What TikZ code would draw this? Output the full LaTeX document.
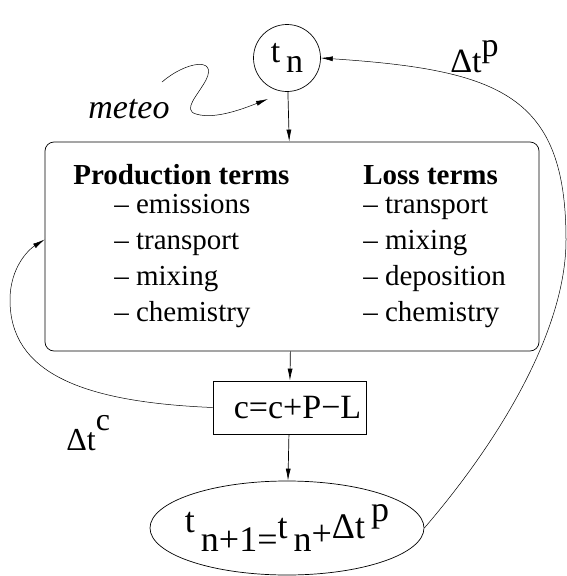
\documentclass[tikz,border=0pt]{standalone}
\usepackage{fontspec}
\IfFontExistsTF{LiberationSerif-Regular.ttf}{\setmainfont{LiberationSerif}[Extension=.ttf, UprightFont=*-Regular, BoldFont=*-Bold, ItalicFont=*-Italic, BoldItalicFont=*-BoldItalic]}{\setmainfont{Liberation Serif}}
\usepackage{tikz}
\usetikzlibrary{positioning, arrows.meta, shapes.geometric}
\newcommand{\lo}[1]{\raisebox{-0.35em}{#1}}
\newcommand{\hi}[1]{\raisebox{0.47em}{#1}}

\begin{document}
\begin{tikzpicture}[x=1pt, y=-1pt, line width=0.7pt,flow/.style={-{Latex[length=12pt, width=5pt]}},txt/.style={font=\fontsize{34}{40}\selectfont, inner sep=0pt},lbl/.style={font=\fontsize{32}{38}\selectfont, inner sep=0pt, anchor=base west},itm/.style={font=\fontsize{29}{36}\selectfont, anchor=base west, inner sep=0pt},hd/.style={itm, font=\fontsize{29}{36}\selectfont\bfseries}]
\useasboundingbox (0,0) rectangle (567,576);
\node[circle, draw, minimum size=67pt, txt] (tn) at (287,58) {t\,\raisebox{-0.28em}{n}};
\node[draw, rounded corners=9pt, minimum width=494pt, minimum height=209pt] (terms) at (292,246.5) {};
\node[hd] (prodhd) at (73,184) {Production terms};
\node[hd] (losshd) at (363,184) {Loss terms};
\foreach \w [count=\i] in {emissions, transport, mixing, chemistry} \node[itm] (prod\i) at (114,177+36*\i) {– \w};
\foreach \w [count=\i] in {transport, mixing, deposition, chemistry} \node[itm] (loss\i) at (363,177+36*\i) {– \w};
\node[draw, minimum width=153pt, minimum height=53pt, inner xsep=0pt, txt] (cbox) at (289.5,407.5) {\hspace{16pt}c=c+P−L};
\node[ellipse, draw, minimum width=274pt, minimum height=94pt, txt, font=\fontsize{36}{42}\selectfont, inner xsep=-30pt, inner ysep=0pt] (tnext) at (287,528) {\raisebox{0.18em}{t}\,\lo{n+1=}t\,\lo{n}\raisebox{-0.18em}{+}Δt\,\hi{p}};
\node[lbl, font=\fontsize{34}{40}\selectfont] (dtp) at (450,72) {Δt\hi{p}};
\node[lbl] (dtc) at (66,450) {Δt\raisebox{0.6em}{c}};
\node[lbl, font=\fontsize{34}{40}\selectfont\itshape] (meteo) at (88,118) {meteo};
\coordinate (wind) at (162,82); \coordinate (windtip) at (268,99);
\draw[flow] (tn) -- (terms); \draw[flow] (terms) -- (cbox); \draw[flow] (cbox) -- (tnext);
\draw[flow, line width=0.5pt] (wind) .. controls (185,62) and (218,56) .. (206,80) .. controls (198,95) and (182,110) .. (196,114) .. controls (215,120) and (245,108) .. (windtip);
\draw[flow, line width=0.5pt] (cbox.west) .. controls (80,402) and (10,372) .. (10,300) .. controls (10,268) and (28,250) .. ([yshift=7pt]terms.west);
\draw[flow, line width=0.5pt] (tnext.east) .. controls (500,440) and (566,330) .. (566,240) .. controls (566,95) and (500,70) .. (tn.east);
\end{tikzpicture}
\end{document}
